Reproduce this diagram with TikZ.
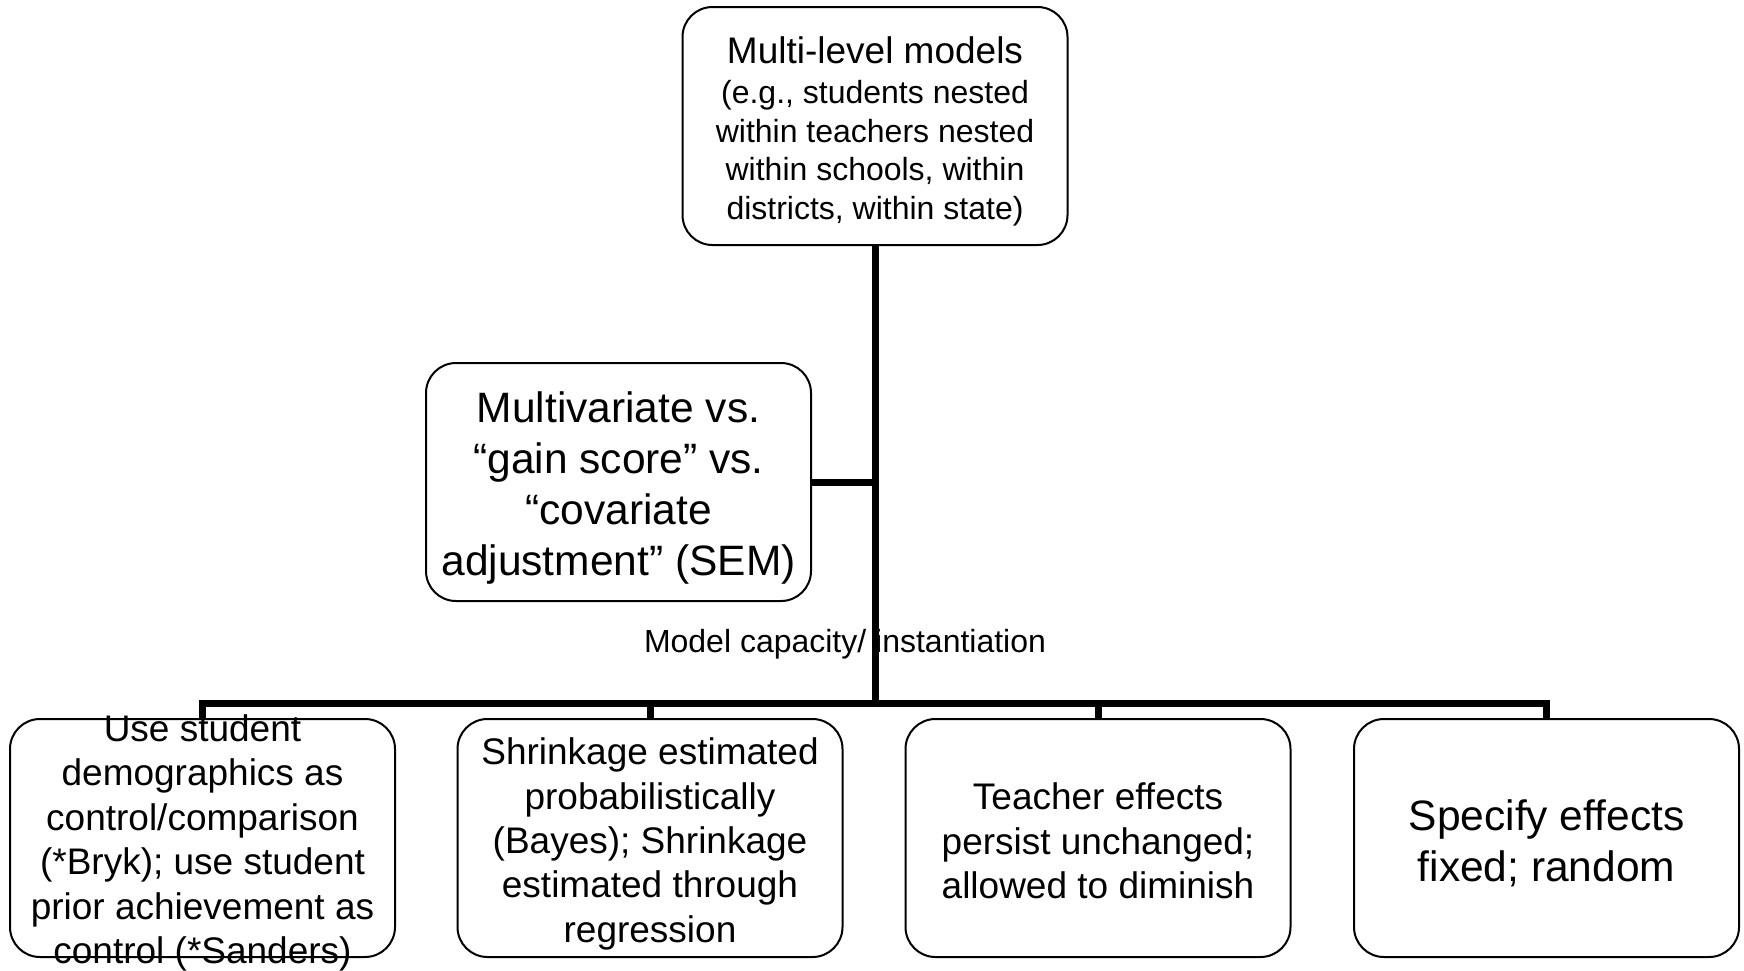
\documentclass[tikz,border=0pt]{standalone}
\usepackage{fontspec}
\setmainfont{Liberation Sans}
\begin{document}
\begin{tikzpicture}[x=0.5pt,y=-0.5pt,
  box/.style={draw=black,line width=1pt,rounded corners=15pt,minimum width=192.5pt,minimum height=119pt,inner sep=0pt,outer sep=0pt},
  txt/.style={align=center,inner sep=0pt,text=black},
  bigf/.style={font=\fontsize{21.25}{25.5}\selectfont},
  medf/.style={font=\fontsize{18.5}{22.2}\selectfont},
  smallf/.style={font=\fontsize{16}{19.2}\selectfont},
  conn/.style={draw=black,line width=3.5pt}]
\useasboundingbox (0,0) rectangle (1744,970);
\fill[white] (0,0) rectangle (1744,970);
% boxes
\node[box] (top) at (875,126) {};
\node[box] (mid) at (618.5,482) {};
\node[box] (b1) at (202.5,838) {};
\node[box] (b2) at (650,838) {};
\node[box] (b3) at (1098,838) {};
\node[box] (b4) at (1546.5,838) {};
% texts
\node[txt,smallf] (ttop) at (875,131) {{\fontsize{18.5}{22.2}\selectfont Multi-level models}\\[1.2pt] (e.g., students nested\\ within teachers nested\\ within schools, within\\ districts, within state)};
\node[txt,bigf] (tmid) at (618.5,488) {Multivariate vs.\\ “gain score” vs.\\ “covariate\\ adjustment” (SEM)};
\node[txt,medf] (tb1) at (202.5,843) {Use student\\ demographics as\\ control/comparison\\ (*Bryk); use student\\ prior achievement as\\ control (*Sanders)};
\node[txt,medf] (tb2) at (650,844) {Shrinkage estimated\\ probabilistically\\ (Bayes); Shrinkage\\ estimated through\\ regression};
\node[txt,medf] (tb3) at (1098,841) {Teacher effects\\ persist unchanged;\\ allowed to diminish};
\node[txt,bigf] (tb4) at (1546.5,843) {Specify effects\\ fixed; random};
\node[txt,smallf] (lab) at (845,644) {Model capacity/ instantiation};
% connectors
\coordinate (bus) at (875,703.5);
\draw[conn] (top.south) -- (bus);
\draw[conn] (mid.east) -- (mid.east -| top.south);
\draw[conn] (b1.north) -- (b1.north |- bus) -- (b4.north |- bus) -- (b4.north);
\draw[conn] (b2.north) -- (b2.north |- bus);
\draw[conn] (b3.north) -- (b3.north |- bus);
\end{tikzpicture}
\end{document}
